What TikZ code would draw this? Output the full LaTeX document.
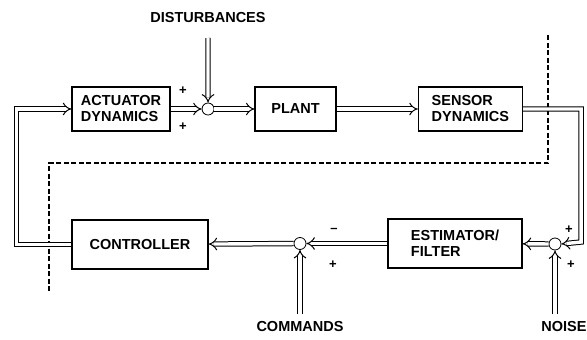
\documentclass[tikz,border=0pt]{standalone}
\usepackage{fontspec}
\setmainfont{Liberation Sans}
\usetikzlibrary{positioning,arrows.meta}

\begin{document}
\begin{tikzpicture}[
  x=1pt, y=-1pt,
  font=\fontsize{14.5}{16}\selectfont\bfseries,
  block/.style = {
    rectangle, draw=black, line width=1.3pt,
    minimum height=44pt, align=left, inner sep=0pt,
  },
  sum/.style = {circle, draw=black, line width=0.8pt, minimum size=12pt, inner sep=0pt},
  pipe/.style = {double, double distance=3.4pt, line width=1pt, draw=black},
  flow/.style = {pipe, -{Implies[length=7pt,width=15pt]}},
  sign/.style = {font=\fontsize{13}{13}\selectfont\bfseries, inner sep=0pt},
  border/.style = {line width=1.2pt, dash pattern=on 5pt off 2.5pt},
  node distance=40pt,
]
  \useasboundingbox (0,0) rectangle (587,340);

  \node[block, minimum width=98pt] (act) at (121,109) {ACTUATOR\\DYNAMICS};
  \node[sum, right=31pt of act] (s1) {};
  \node[block, minimum width=81pt, right=40pt of s1] (plant) {PLANT};
  \node[block, minimum width=104pt, right=81pt of plant] (sens) {SENSOR\\DYNAMICS};
  \node[block, minimum width=134pt, minimum height=49pt] (est) at (455,243.5) {ESTIMATOR/\\FILTER};
  \node[sum] (s3) at (555,244) {};
  \node[sum] (s2) at (300,243.5) {};
  \node[block, minimum width=136pt, minimum height=49pt] (ctrl) at (140,244.5) {CONTROLLER};

  \node (dist) at (208,18) {DISTURBANCES};
  \node (cmd) at (300,327) {COMMANDS};
  \node (noise) at (564,327) {NOISE};
  \coordinate (d0) at (208,38);
  \coordinate (c0) at (300,314);
  \coordinate (n0) at (555,314);

  \node[sign] (p1) at (183,91) {+};
  \node[sign] (p2) at (183,127) {+};
  \node[sign] (m1) at (334,230) {--};
  \node[sign] (p3) at (333,265) {+};
  \node[sign] (p4) at (569,230) {+};
  \node[sign] (p5) at (571,265) {+};

  \draw[border] (548,35) -- (548,163) -- (49,163) -- (49,293);

  \draw[flow] (act) -- (s1);
  \draw[flow] (d0) -- (s1);
  \draw[flow] (s1) -- (plant);
  \draw[flow] (plant) -- (sens);
  \draw[flow] (sens.east) -| ++(58,133) -- (s3.east);
  \draw[flow] (n0) -- (s3);
  \draw[flow] (s3) -- (est);
  \draw[flow] (est) -- (s2);
  \draw[flow] (c0) -- (s2);
  \draw[flow] (s2) -- (ctrl);
  \draw[flow] (ctrl.west) -- ++(-55,0) |- (act.west);
\end{tikzpicture}
\end{document}
